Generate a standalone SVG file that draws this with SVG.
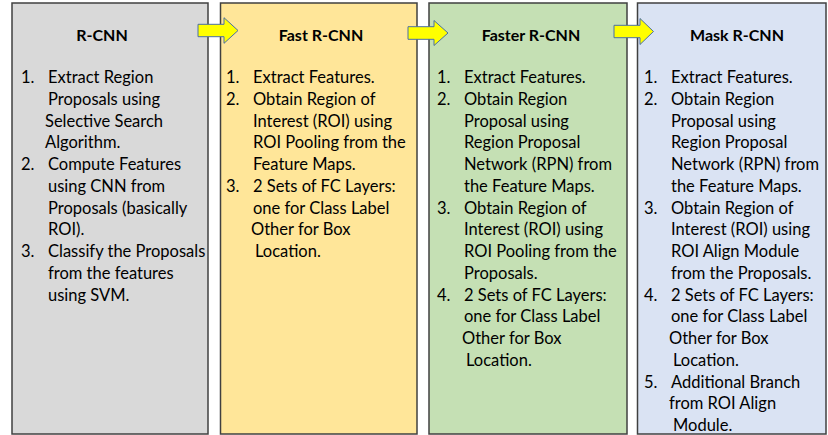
<svg xmlns="http://www.w3.org/2000/svg" width="828" height="435" viewBox="0 0 828 435">
<style>
.box{stroke:#404040;stroke-width:1.5}
.t{font-family:Lato,"Liberation Sans",sans-serif;font-size:16.5px;fill:#000}
.h{font-family:Lato,"Liberation Sans",sans-serif;font-size:16px;font-weight:bold;fill:#000;text-anchor:middle}
.arr{fill:#ffff00;stroke:#4a6fa5;stroke-width:1}
</style>
<rect width="828" height="435" fill="#ffffff"/>
<g id="rcnn">
<rect class="box" x="12" y="3" width="196" height="431" fill="#d9d9d9"/>
<text class="h" x="102" y="41">R-CNN</text>
<text class="t" x="21" y="83">1.</text><text class="t" x="48" y="83">Extract Region</text>
<text class="t" x="48" y="104.75">Proposals using</text>
<text class="t" x="45" y="126.5">Selective Search</text>
<text class="t" x="45" y="148.25">Algorithm.</text>
<text class="t" x="21" y="170">2.</text><text class="t" x="48" y="170">Compute Features</text>
<text class="t" x="48" y="191.75">using CNN from</text>
<text class="t" x="48" y="213.5">Proposals (basically</text>
<text class="t" x="48" y="235.25">ROI).</text>
<text class="t" x="21" y="257">3.</text><text class="t" x="48" y="257">Classify the Proposals</text>
<text class="t" x="48" y="278.75">from the features</text>
<text class="t" x="48" y="300.5">using SVM.</text>
</g>
<g id="fast-rcnn">
<rect class="box" x="220.5" y="3" width="196.5" height="431" fill="#ffe699"/>
<text class="h" x="321" y="41">Fast R-CNN</text>
<text class="t" x="226" y="83">1.</text><text class="t" x="253" y="83">Extract Features.</text>
<text class="t" x="226" y="104.75">2.</text><text class="t" x="253" y="104.75">Obtain Region of</text>
<text class="t" x="253" y="126.5">Interest (ROI) using</text>
<text class="t" x="253" y="148.25">ROI Pooling from the</text>
<text class="t" x="253" y="170">Feature Maps.</text>
<text class="t" x="226" y="191.75">3.</text><text class="t" x="253" y="191.75">2 Sets of FC Layers:</text>
<text class="t" x="253" y="213.5">one for Class Label</text>
<text class="t" x="251" y="235.25">Other for Box</text>
<text class="t" x="255" y="257">Location.</text>
</g>
<g id="faster-rcnn">
<rect class="box" x="429" y="3" width="198" height="431" fill="#c5e0b4"/>
<text class="h" x="531" y="41">Faster R-CNN</text>
<text class="t" x="437" y="83">1.</text><text class="t" x="464" y="83">Extract Features.</text>
<text class="t" x="437" y="104.75">2.</text><text class="t" x="464" y="104.75">Obtain Region</text>
<text class="t" x="464" y="126.5">Proposal using</text>
<text class="t" x="464" y="148.25">Region Proposal</text>
<text class="t" x="464" y="170">Network (RPN) from</text>
<text class="t" x="464" y="191.75">the Feature Maps.</text>
<text class="t" x="437" y="213.5">3.</text><text class="t" x="464" y="213.5">Obtain Region of</text>
<text class="t" x="464" y="235.25">Interest (ROI) using</text>
<text class="t" x="464" y="257">ROI Pooling from the</text>
<text class="t" x="464" y="278.75">Proposals.</text>
<text class="t" x="437" y="300.5">4.</text><text class="t" x="464" y="300.5">2 Sets of FC Layers:</text>
<text class="t" x="464" y="322.25">one for Class Label</text>
<text class="t" x="462" y="344">Other for Box</text>
<text class="t" x="466" y="365.75">Location.</text>
</g>
<g id="mask-rcnn">
<rect class="box" x="637.5" y="3" width="188.5" height="431" fill="#dae3f3"/>
<text class="h" x="737" y="41">Mask R-CNN</text>
<text class="t" x="644" y="83">1.</text><text class="t" x="671" y="83">Extract Features.</text>
<text class="t" x="644" y="104.75">2.</text><text class="t" x="671" y="104.75">Obtain Region</text>
<text class="t" x="671" y="126.5">Proposal using</text>
<text class="t" x="671" y="148.25">Region Proposal</text>
<text class="t" x="671" y="170">Network (RPN) from</text>
<text class="t" x="671" y="191.75">the Feature Maps.</text>
<text class="t" x="644" y="213.5">3.</text><text class="t" x="671" y="213.5">Obtain Region of</text>
<text class="t" x="671" y="235.25">Interest (ROI) using</text>
<text class="t" x="671" y="257">ROI Align Module</text>
<text class="t" x="671" y="278.75">from the Proposals.</text>
<text class="t" x="644" y="300.5">4.</text><text class="t" x="671" y="300.5">2 Sets of FC Layers:</text>
<text class="t" x="671" y="322.25">one for Class Label</text>
<text class="t" x="669" y="344">Other for Box</text>
<text class="t" x="673" y="365.75">Location.</text>
<text class="t" x="644" y="387.5">5.</text><text class="t" x="671" y="387.5">Additional Branch</text>
<text class="t" x="669" y="409.25">from ROI Align</text>
<text class="t" x="673" y="431">Module.</text>
</g>
<g id="connectors">
<polygon class="arr" points="198,24.3 224,24.3 224,17.7 238,30.5 224,43.3 224,36.7 198,36.7"/>
<polygon class="arr" points="408,26.7 434,26.7 434,20.5 448,33 434,45.5 434,39.3 408,39.3"/>
<polygon class="arr" points="614,25.3 640,25.3 640,18.5 653.5,31.5 640,44.5 640,37.7 614,37.7"/>
</g>
</svg>
